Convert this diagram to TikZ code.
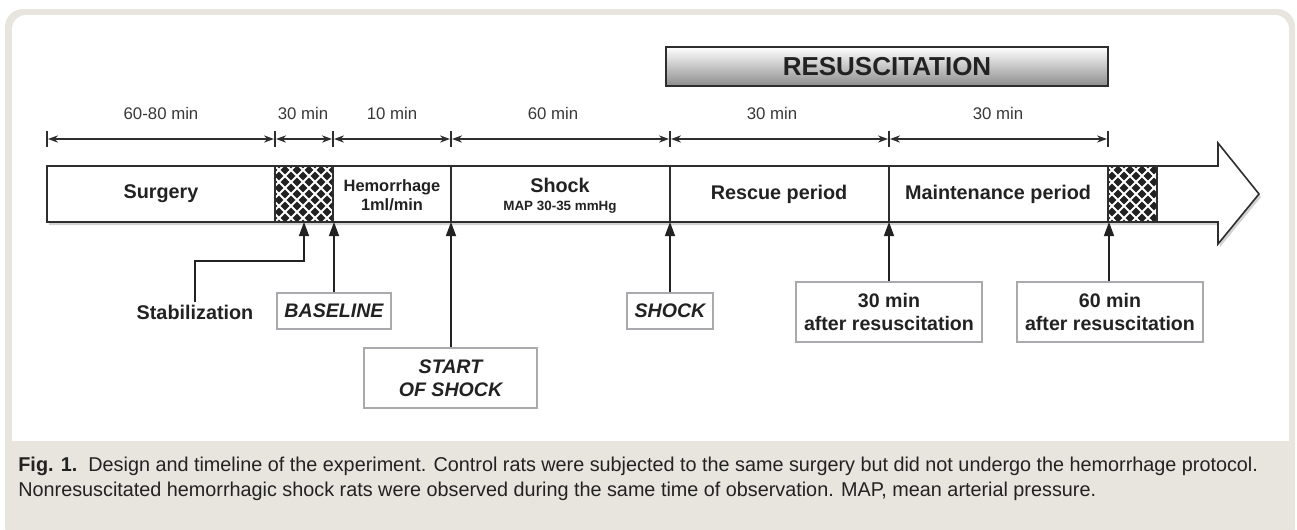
\documentclass[tikz,border=0pt]{standalone}
\usepackage{fontspec}
\setmainfont{Liberation Sans}
\newfontfamily\capfont[FakeStretch=0.99]{Liberation Sans}
\usetikzlibrary{arrows.meta,shadows}

\definecolor{framegray}{HTML}{E8E5DF}
\definecolor{linegray}{HTML}{2E2E2E}
\definecolor{boxgray}{HTML}{A9A9AE}
\definecolor{inkgray}{HTML}{222222}

\newcommand{\hatchblock}[2]{%
  \begin{scope}
    \clip (#1,166) rectangle (#2,222);
    \fill[inkgray] (#1,166) rectangle (#2,222);
    \foreach \k in {-72,-60,...,84}{
      \draw[white, line width=0.9pt] (#1+\k,166) -- ++(56,56);
      \draw[white, line width=0.9pt] (#1+\k,222) -- ++(56,-56);
    }
  \end{scope}}

\tikzset{
  segtext/.style={font=\bfseries\fontsize{9.9}{11}\selectfont, text=inkgray, align=center},
  smalltext/.style={font=\bfseries\fontsize{8.2}{9.5}\selectfont, text=inkgray, align=center},
  dimtext/.style={font=\fontsize{8.4}{10}\selectfont, text=inkgray!90},
  markbox/.style={draw=boxgray, fill=white, line width=0.6pt, align=center,
    font=\bfseries\fontsize{9.8}{11.5}\selectfont, text=inkgray, inner sep=0pt},
  dimline/.style={{Stealth[length=5pt,width=3.6pt,inset=1.6pt]}-{Stealth[length=5pt,width=3.6pt,inset=1.6pt]},
    line width=0.6pt, linegray},
  uparrow/.style={-{Triangle[length=7pt,width=5pt]}, line width=0.7pt, inkgray},
  captext/.style={font=\capfont\fontsize{10}{12}\selectfont, text=inkgray, anchor=west, inner sep=0pt},
}

\begin{document}
\begin{tikzpicture}[x=0.5pt,y=-0.5pt]
\useasboundingbox (0,0) rectangle (1297,530);

% frame and caption band
\fill[framegray, rounded corners=9pt] (5,9) rectangle (1295,545);
\fill[white, rounded corners=7pt] (12,15) rectangle (1289,462);
\fill[framegray] (12,441) rectangle (1289,472);

% resuscitation banner
\draw[linegray, line width=0.7pt, top color=white, bottom color=black!45]
  (666,47) rectangle (1108,86);
\node[font=\bfseries\fontsize{13}{14}\selectfont, text=inkgray] (resus) at (887,66.5) {RESUSCITATION};

% durations
\foreach \x in {47,275,333,451,670,889,1108}
  \draw[linegray, line width=0.6pt] (\x,131) -- (\x,147);
\foreach \a/\b/\m/\t in {47/275/161/60-80 min, 275/333/303/30 min, 333/451/392/10 min,
    451/670/553/60 min, 670/889/772/30 min, 889/1108/998/30 min}{
  \draw[dimline] (\a+1,139) -- (\b-1,139);
  \node[dimtext] (dur\a) at (\m,113) {\t};
}

% timeline bar
\draw[linegray, line width=0.8pt, fill=white,
  drop shadow={shadow xshift=1pt, shadow yshift=-1.5pt, opacity=0.35}]
  (47,166) -- (1218,166) -- (1218,143) -- (1259,194) -- (1218,244) -- (1218,222)
  -- (47,222) -- cycle;
\hatchblock{275}{333}
\hatchblock{1108}{1157}
\draw[linegray, line width=0.8pt] (47,166) -- (1218,166) (47,222) -- (1218,222);
\foreach \x in {275,333,451,670,889,1108,1157}
  \draw[linegray, line width=0.8pt] (\x,166) -- (\x,222);

\node[segtext] (surgery) at (161,194) {Surgery};
\node[smalltext] (hemo) at (392,195) {Hemorrhage\\1ml/min};
\node[segtext] (shock) at (560,185) {Shock};
\node[font=\bfseries\fontsize{6.7}{7}\selectfont, text=inkgray] (map) at (560,207) {MAP 30-35 mmHg};
\node[segtext] (rescue) at (779,194) {Rescue period};
\node[segtext] (maint) at (998,194) {Maintenance period};

% time points
\coordinate (stabpt) at (304,222);
\coordinate (basept) at (334,222);
\coordinate (startpt) at (451,222);
\coordinate (shockpt) at (670,222);
\coordinate (r30pt) at (889,222);
\coordinate (r60pt) at (1109,222);

\node[font=\bfseries\fontsize{9.9}{11}\selectfont, text=inkgray, inner sep=1pt] (stab) at (195,312) {Stabilization};
\node[markbox, minimum width=57pt, minimum height=18pt] (base) at (334,311) {\itshape BASELINE};
\node[markbox, minimum width=86.5pt, minimum height=30pt] (start) at (450.5,378) {\itshape START\\\itshape OF SHOCK};
\node[markbox, minimum width=43pt, minimum height=18pt] (shk) at (670,311) {\itshape SHOCK};
\node[markbox, minimum width=93pt, minimum height=30pt] (r30) at (889,312) {30 min\\after resuscitation};
\node[markbox, minimum width=93pt, minimum height=30pt] (r60) at (1110,312) {60 min\\after resuscitation};

\draw[uparrow] (stab.north) |- (stabpt |- 0,261) -- (stabpt);
\draw[uparrow] (basept |- base.north) -- (basept);
\draw[uparrow] (startpt |- start.north) -- (startpt);
\draw[uparrow] (shockpt |- shk.north) -- (shockpt);
\draw[uparrow] (r30pt |- r30.north) -- (r30pt);
\draw[uparrow] (r60pt |- r60.north) -- (r60pt);

% caption
\node[captext] (cap1) at (18,466) {\textbf{Fig. 1.}\ \ Design and timeline of the experiment. Control rats were subjected to the same surgery but did not undergo the hemorrhage protocol.};
\node[captext] (cap2) at (18,491) {Nonresuscitated hemorrhagic shock rats were observed during the same time of observation. MAP, mean arterial pressure.};
\end{tikzpicture}
\end{document}
